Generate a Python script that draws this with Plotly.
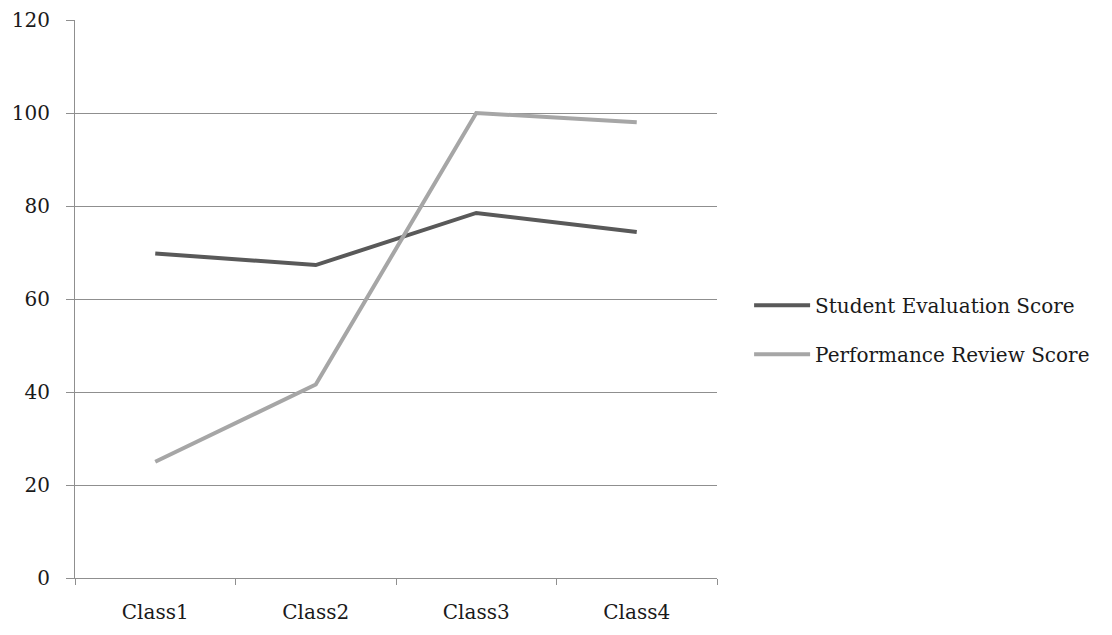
import plotly.graph_objects as go

# Chart data
classes = ["Class1", "Class2", "Class3", "Class4"]
student_eval = [69.8, 67.3, 78.5, 74.4]
performance_review = [25.0, 41.6, 100.0, 98.0]
y_ticks = [0, 20, 40, 60, 80, 100, 120]

FONT = "DejaVu Serif"
GRID = "#8f8f8f"

fig = go.Figure()
fig.add_trace(go.Scatter(
    x=classes, y=student_eval, mode="lines",
    name="Student Evaluation Score", legendgroup="a",
    line=dict(color="#595959", width=4),
))
fig.add_trace(go.Scatter(
    x=classes, y=performance_review, mode="lines",
    name="Performance Review Score", legendgroup="b",
    line=dict(color="#a6a6a6", width=4),
))

fig.update_layout(
    width=1112, height=635,
    margin=dict(l=75, r=395, t=20, b=57, autoexpand=False),
    paper_bgcolor="white", plot_bgcolor="white",
    font=dict(family=FONT, size=20, color="#1a1a1a"),
    showlegend=True,
    legend=dict(
        x=1.05, xanchor="left", xref="paper",
        y=0.445, yanchor="middle",
        bgcolor="rgba(0,0,0,0)",
        tracegroupgap=20,
        itemwidth=56,
        font=dict(family=FONT, size=20, color="#1a1a1a"),
    ),
    xaxis=dict(
        type="category",
        range=[-0.5, 3.5],
        automargin=False,
        showgrid=False,
        showline=True, linecolor=GRID, linewidth=1,
        ticks="outside", tickson="boundaries", ticklen=6,
        tickcolor=GRID, tickwidth=1,
        ticklabelstandoff=16,
        zeroline=False,
    ),
    yaxis=dict(
        range=[0, 120],
        tickvals=y_ticks,
        automargin=False,
        showgrid=True, gridcolor=GRID, gridwidth=1,
        showline=True, linecolor=GRID, linewidth=1,
        ticks="outside", ticklen=8, tickcolor=GRID, tickwidth=1,
        ticklabelstandoff=12,
        zeroline=False,
    ),
)

fig.write_html("out.html")
